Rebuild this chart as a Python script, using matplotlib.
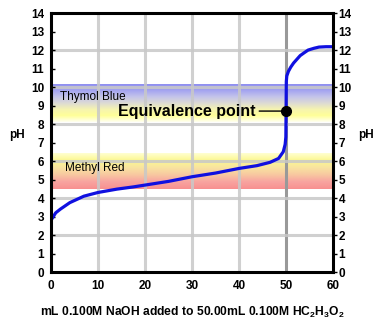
import numpy as np
import matplotlib
matplotlib.use("Agg")
import matplotlib.pyplot as plt
from matplotlib.colors import LinearSegmentedColormap

plt.rcParams['font.family'] = ['Liberation Sans', 'DejaVu Sans']
plt.rcParams['mathtext.fontset'] = 'custom'
plt.rcParams['mathtext.rm'] = 'Liberation Sans:bold'
plt.rcParams['mathtext.default'] = 'rm'

# titration curve (mL NaOH, pH)
ml_naoh = [0, 1, 2, 4, 7, 10, 14, 17.5, 20, 25, 30, 35, 40, 43.8, 46.6, 48.4,
           49.4, 49.8, 49.95, 50, 50.05, 50.15, 50.5, 51, 51.6, 52.3, 53, 54,
           54.7, 56, 57, 58.5, 60]
ph = [2.8, 3.2, 3.4, 3.75, 4.1, 4.3, 4.48, 4.6, 4.7, 4.9, 5.15, 5.35, 5.6, 5.75, 5.93, 6.14,
      6.5, 6.9, 7.3, 8.7, 10.3, 10.6, 10.85, 11.08, 11.3, 11.5, 11.7, 11.88,
      12.0, 12.1, 12.16, 12.18, 12.18]

equiv_ml = 50
equiv_ph = 8.7

# indicator ranges (low pH, high pH)
thymol_blue = (8.1, 10.15)
methyl_red = (4.5, 6.4)

x_ticks = [0, 10, 20, 30, 40, 50, 60]
y_ticks = list(range(0, 15))

fig = plt.figure(figsize=(3.82, 3.26), dpi=100)
ax = fig.add_axes([0.1335, 0.1656, 0.7385, 0.7944])

# gradient bands, colours go bottom -> top
tb_cmap = LinearSegmentedColormap.from_list(
    'tb', ['#fffff0', '#ffff98', '#f6f4b0', '#dcdad4', '#c4c4ea', '#a4a4f0', '#9090f0'])
mr_cmap = LinearSegmentedColormap.from_list(
    'mr', ['#f89090', '#f8a4a0', '#f8c8a0', '#f8e4a0', '#fcf890', '#ffffd0'])
grad = np.linspace(0, 1, 100).reshape(-1, 1)
ax.imshow(grad, cmap=tb_cmap, origin='lower', aspect='auto',
          extent=[0, 60, thymol_blue[0], thymol_blue[1]], zorder=0)
ax.imshow(grad, cmap=mr_cmap, origin='lower', aspect='auto',
          extent=[0, 60, methyl_red[0], methyl_red[1]], zorder=0)
ax.set_xlim(0, 60)
ax.set_ylim(0, 14)

# grid
for gx in [10, 20, 30, 40]:
    ax.axvline(gx, color='#c8c8c8', lw=2.2, alpha=0.85, zorder=1)
ax.axvline(50, color='#999999', lw=2.2, zorder=1)
for gy in range(2, 14, 2):
    ax.axhline(gy, color='#c8c8c8', lw=2.2, alpha=0.85, zorder=1)

ax.text(2.0, 9.45, 'Thymol Blue', fontsize=8.5, va='center', ha='left', zorder=3)
ax.text(3.0, 5.62, 'Methyl Red', fontsize=8.5, va='center', ha='left', zorder=3)

ax.plot(ml_naoh, ph, color='#1010e0', lw=2.3, solid_capstyle='round',
        solid_joinstyle='round', zorder=4)
ax.plot([equiv_ml], [equiv_ph], 'o', color='black', ms=7, zorder=5)
ax.annotate('Equivalence point', xy=(equiv_ml, equiv_ph), xytext=(43.4, equiv_ph),
            ha='right', va='center', fontsize=11.5, fontweight='bold', zorder=5,
            arrowprops=dict(arrowstyle='-', color='black', lw=1, shrinkA=1, shrinkB=0))

for s in ax.spines.values():
    s.set_linewidth(2.2)
    s.set_zorder(6)

ax.set_xticks(x_ticks)
ax.set_xticklabels([str(v) for v in x_ticks], fontweight='bold', fontsize=8.5)
ax.set_yticks(y_ticks)
ax.set_yticklabels([str(v) for v in y_ticks], fontweight='bold', fontsize=8.5)
ax.tick_params(axis='x', length=0, pad=6)
ax.tick_params(axis='y', direction='in', length=3, width=1, pad=5)

ax2 = ax.twinx()
ax2.set_ylim(0, 14)
ax2.set_yticks(y_ticks)
ax2.set_yticklabels([str(v) for v in y_ticks], fontweight='bold', fontsize=8.5)
ax2.tick_params(axis='y', direction='out', length=3, width=1, pad=1)
for s in ax2.spines.values():
    s.set_visible(False)

fig.text(16.5 / 382, 1 - 135 / 326, 'pH', fontweight='bold', fontsize=8.5,
         ha='center', va='center')
fig.text(366 / 382, 1 - 135 / 326, 'pH', fontweight='bold', fontsize=8.5,
         ha='center', va='center')
ax.set_xlabel('mL 0.100M NaOH added to 50.00mL 0.100M HC$_2$H$_3$O$_2$',
              fontweight='bold', fontsize=8.7, labelpad=9)

fig.savefig('out.png', dpi=100)
